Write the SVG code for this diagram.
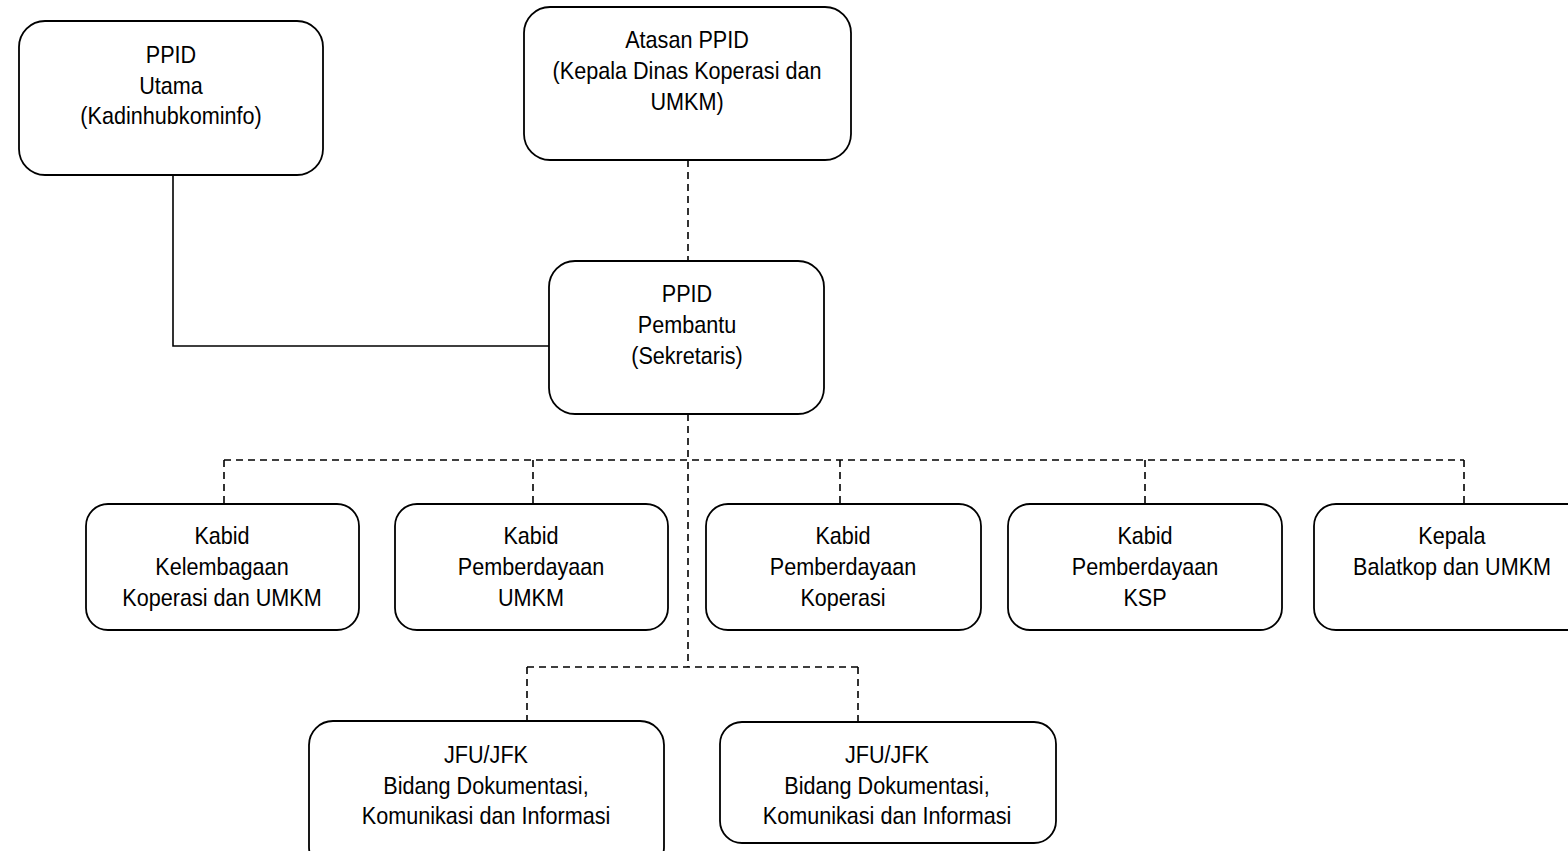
<svg xmlns="http://www.w3.org/2000/svg" width="1568" height="851" viewBox="0 0 1568 851">
<style>
.box{fill:#fff;stroke:#000;stroke-width:1.8}
.t{font-family:"Liberation Sans",Arial,sans-serif;font-size:24px;fill:#000;text-anchor:middle}
.solid{fill:none;stroke:#000;stroke-width:1.6}
.dash{fill:none;stroke:#000;stroke-width:1.6;stroke-dasharray:7 5}
</style>
<rect width="1568" height="851" fill="#fff"/>
<g id="connectors">
<polyline class="solid" points="173,175 173,346 549,346"/>
<line class="dash" x1="688" y1="160" x2="688" y2="261"/>
<line class="dash" x1="688" y1="414" x2="688" y2="667"/>
<line class="dash" x1="224" y1="460" x2="1464" y2="460"/>
<line class="dash" x1="224" y1="460" x2="224" y2="504"/>
<line class="dash" x1="533" y1="460" x2="533" y2="504"/>
<line class="dash" x1="840" y1="460" x2="840" y2="504"/>
<line class="dash" x1="1145" y1="460" x2="1145" y2="504"/>
<line class="dash" x1="1464" y1="460" x2="1464" y2="504"/>
<line class="dash" x1="527" y1="667" x2="858" y2="667"/>
<line class="dash" x1="527" y1="667" x2="527" y2="721"/>
<line class="dash" x1="858" y1="667" x2="858" y2="721"/>
</g>
<g id="ppid-utama">
<rect class="box" x="19" y="21" width="304" height="154" rx="26"/>
<g transform="translate(171 0) scale(0.9 1)">
<text class="t" x="0" y="63">PPID</text>
<text class="t" x="0" y="94">Utama</text>
<text class="t" x="0" y="124">(Kadinhubkominfo)</text>
</g>
</g>
<g id="atasan-ppid">
<rect class="box" x="524" y="7" width="327" height="153" rx="26"/>
<g transform="translate(687 0) scale(0.9 1)">
<text class="t" x="0" y="48">Atasan PPID</text>
<text class="t" x="0" y="79">(Kepala Dinas Koperasi dan</text>
<text class="t" x="0" y="110">UMKM)</text>
</g>
</g>
<g id="ppid-pembantu">
<rect class="box" x="549" y="261" width="275" height="153" rx="26"/>
<g transform="translate(687 0) scale(0.9 1)">
<text class="t" x="0" y="302">PPID</text>
<text class="t" x="0" y="333">Pembantu</text>
<text class="t" x="0" y="364">(Sekretaris)</text>
</g>
</g>
<g id="kabid-kelembagaan">
<rect class="box" x="86" y="504" width="273" height="126" rx="22"/>
<g transform="translate(222 0) scale(0.9 1)">
<text class="t" x="0" y="544">Kabid</text>
<text class="t" x="0" y="575">Kelembagaan</text>
<text class="t" x="0" y="606">Koperasi dan UMKM</text>
</g>
</g>
<g id="kabid-umkm">
<rect class="box" x="395" y="504" width="273" height="126" rx="22"/>
<g transform="translate(531 0) scale(0.9 1)">
<text class="t" x="0" y="544">Kabid</text>
<text class="t" x="0" y="575">Pemberdayaan</text>
<text class="t" x="0" y="606">UMKM</text>
</g>
</g>
<g id="kabid-koperasi">
<rect class="box" x="706" y="504" width="275" height="126" rx="22"/>
<g transform="translate(843 0) scale(0.9 1)">
<text class="t" x="0" y="544">Kabid</text>
<text class="t" x="0" y="575">Pemberdayaan</text>
<text class="t" x="0" y="606">Koperasi</text>
</g>
</g>
<g id="kabid-ksp">
<rect class="box" x="1008" y="504" width="274" height="126" rx="22"/>
<g transform="translate(1145 0) scale(0.9 1)">
<text class="t" x="0" y="544">Kabid</text>
<text class="t" x="0" y="575">Pemberdayaan</text>
<text class="t" x="0" y="606">KSP</text>
</g>
</g>
<g id="kepala-balatkop">
<rect class="box" x="1314" y="504" width="276" height="126" rx="22"/>
<g transform="translate(1452 0) scale(0.9 1)">
<text class="t" x="0" y="544">Kepala</text>
<text class="t" x="0" y="575">Balatkop dan UMKM</text>
</g>
</g>
<g id="jfu-jfk-1">
<rect class="box" x="309" y="721" width="355" height="150" rx="24"/>
<g transform="translate(486 0) scale(0.9 1)">
<text class="t" x="0" y="763">JFU/JFK</text>
<text class="t" x="0" y="794">Bidang Dokumentasi,</text>
<text class="t" x="0" y="824">Komunikasi dan Informasi</text>
</g>
</g>
<g id="jfu-jfk-2">
<rect class="box" x="720" y="722" width="336" height="121" rx="22"/>
<g transform="translate(887 0) scale(0.9 1)">
<text class="t" x="0" y="763">JFU/JFK</text>
<text class="t" x="0" y="794">Bidang Dokumentasi,</text>
<text class="t" x="0" y="824">Komunikasi dan Informasi</text>
</g>
</g>
</svg>
